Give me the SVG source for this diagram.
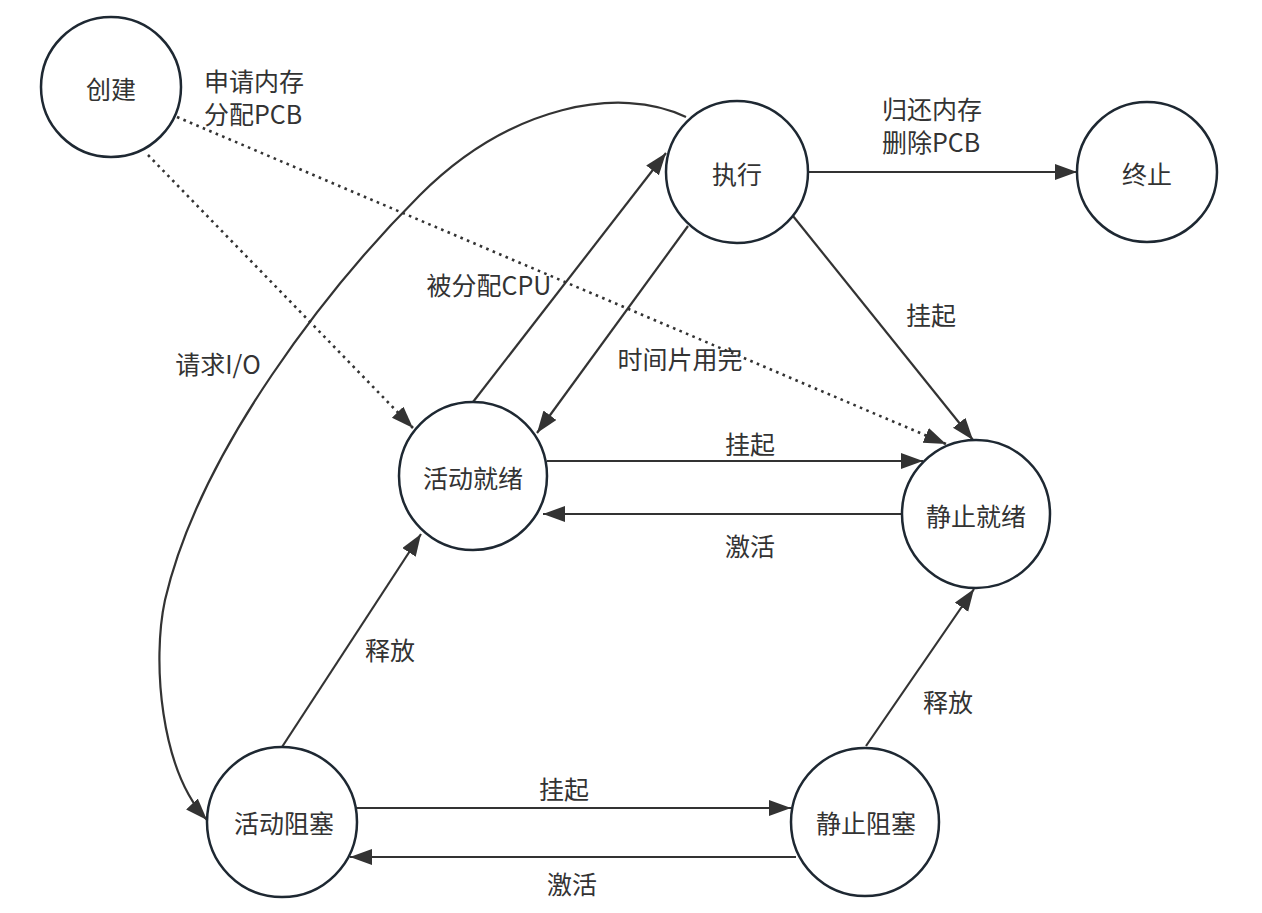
<svg xmlns="http://www.w3.org/2000/svg" width="1262" height="913" viewBox="0 0 1262 913">
<style>
  .node circle { fill: #ffffff; stroke: #1e2832; stroke-width: 2.5; }
  text { font-family: "Noto Sans CJK SC", "Noto Sans", sans-serif; font-size: 25px; fill: #333333; }
  .c { text-anchor: middle; dominant-baseline: central; }
  .l { text-anchor: start; dominant-baseline: central; }
  .edge { fill: none; stroke: #333333; stroke-width: 2.2; marker-end: url(#arrow); }
  .dot { stroke-width: 2.6; stroke-dasharray: 2.6 4.4; }
</style>
<defs>
  <marker id="arrow" markerUnits="userSpaceOnUse" markerWidth="24" markerHeight="18" refX="22" refY="8" orient="auto" viewBox="0 0 24 18">
    <path d="M0,0 L22,8 L0,16 Z" fill="#333333"/>
  </marker>
</defs>
<rect width="1262" height="913" fill="#ffffff"/>
<g id="connectors">
  <path class="edge dot" d="M148,155 L413,428"/>
  <path class="edge dot" d="M177,117 L946,444"/>
  <path class="edge" d="M473,402 L666,153"/>
  <path class="edge" d="M688,226 L537,433"/>
  <path class="edge" d="M793,216 L973,440"/>
  <path class="edge" d="M808,172 L1077,172"/>
  <path class="edge" d="M547,461 L923,461"/>
  <path class="edge" d="M903,514 L543,514"/>
  <path class="edge" d="M282,747 L421,534"/>
  <path class="edge" d="M357,808 L791,808"/>
  <path class="edge" d="M796,857 L350,857"/>
  <path class="edge" d="M866,746 L974,589"/>
  <path class="edge" d="M686,117 C620,85 510,105 420,195 C330,285 200,450 165,600 C152,660 160,770 207,820"/>
  <text class="l" x="204" y="80">申请内存</text>
  <text class="l" x="204" y="113">分配PCB</text>
  <text class="l" x="882" y="108">归还内存</text>
  <text class="l" x="882" y="141">删除PCB</text>
  <text class="c" x="931" y="314">挂起</text>
  <text class="c" x="489" y="284">被分配CPU</text>
  <text class="c" x="680" y="358">时间片用完</text>
  <text class="c" x="218" y="363">请求I/O</text>
  <text class="c" x="750" y="443">挂起</text>
  <text class="c" x="750" y="545">激活</text>
  <text class="c" x="390" y="649">释放</text>
  <text class="c" x="564" y="788">挂起</text>
  <text class="c" x="572" y="883">激活</text>
  <text class="c" x="948" y="701">释放</text>
</g>
<g id="node-create" class="node"><circle cx="111" cy="87" r="70"/><text class="c" x="111" y="88">创建</text></g>
<g id="node-run" class="node"><circle cx="737" cy="172" r="71"/><text class="c" x="737" y="173">执行</text></g>
<g id="node-exit" class="node"><circle cx="1147" cy="172" r="70"/><text class="c" x="1147" y="173">终止</text></g>
<g id="node-active-ready" class="node"><circle cx="473" cy="476" r="74"/><text class="c" x="473" y="477">活动就绪</text></g>
<g id="node-static-ready" class="node"><circle cx="976" cy="514" r="74"/><text class="c" x="976" y="515">静止就绪</text></g>
<g id="node-active-blocked" class="node"><circle cx="282" cy="822" r="75"/><text class="c" x="284" y="822">活动阻塞</text></g>
<g id="node-static-blocked" class="node"><circle cx="865" cy="822" r="74"/><text class="c" x="866" y="822">静止阻塞</text></g>
</svg>
